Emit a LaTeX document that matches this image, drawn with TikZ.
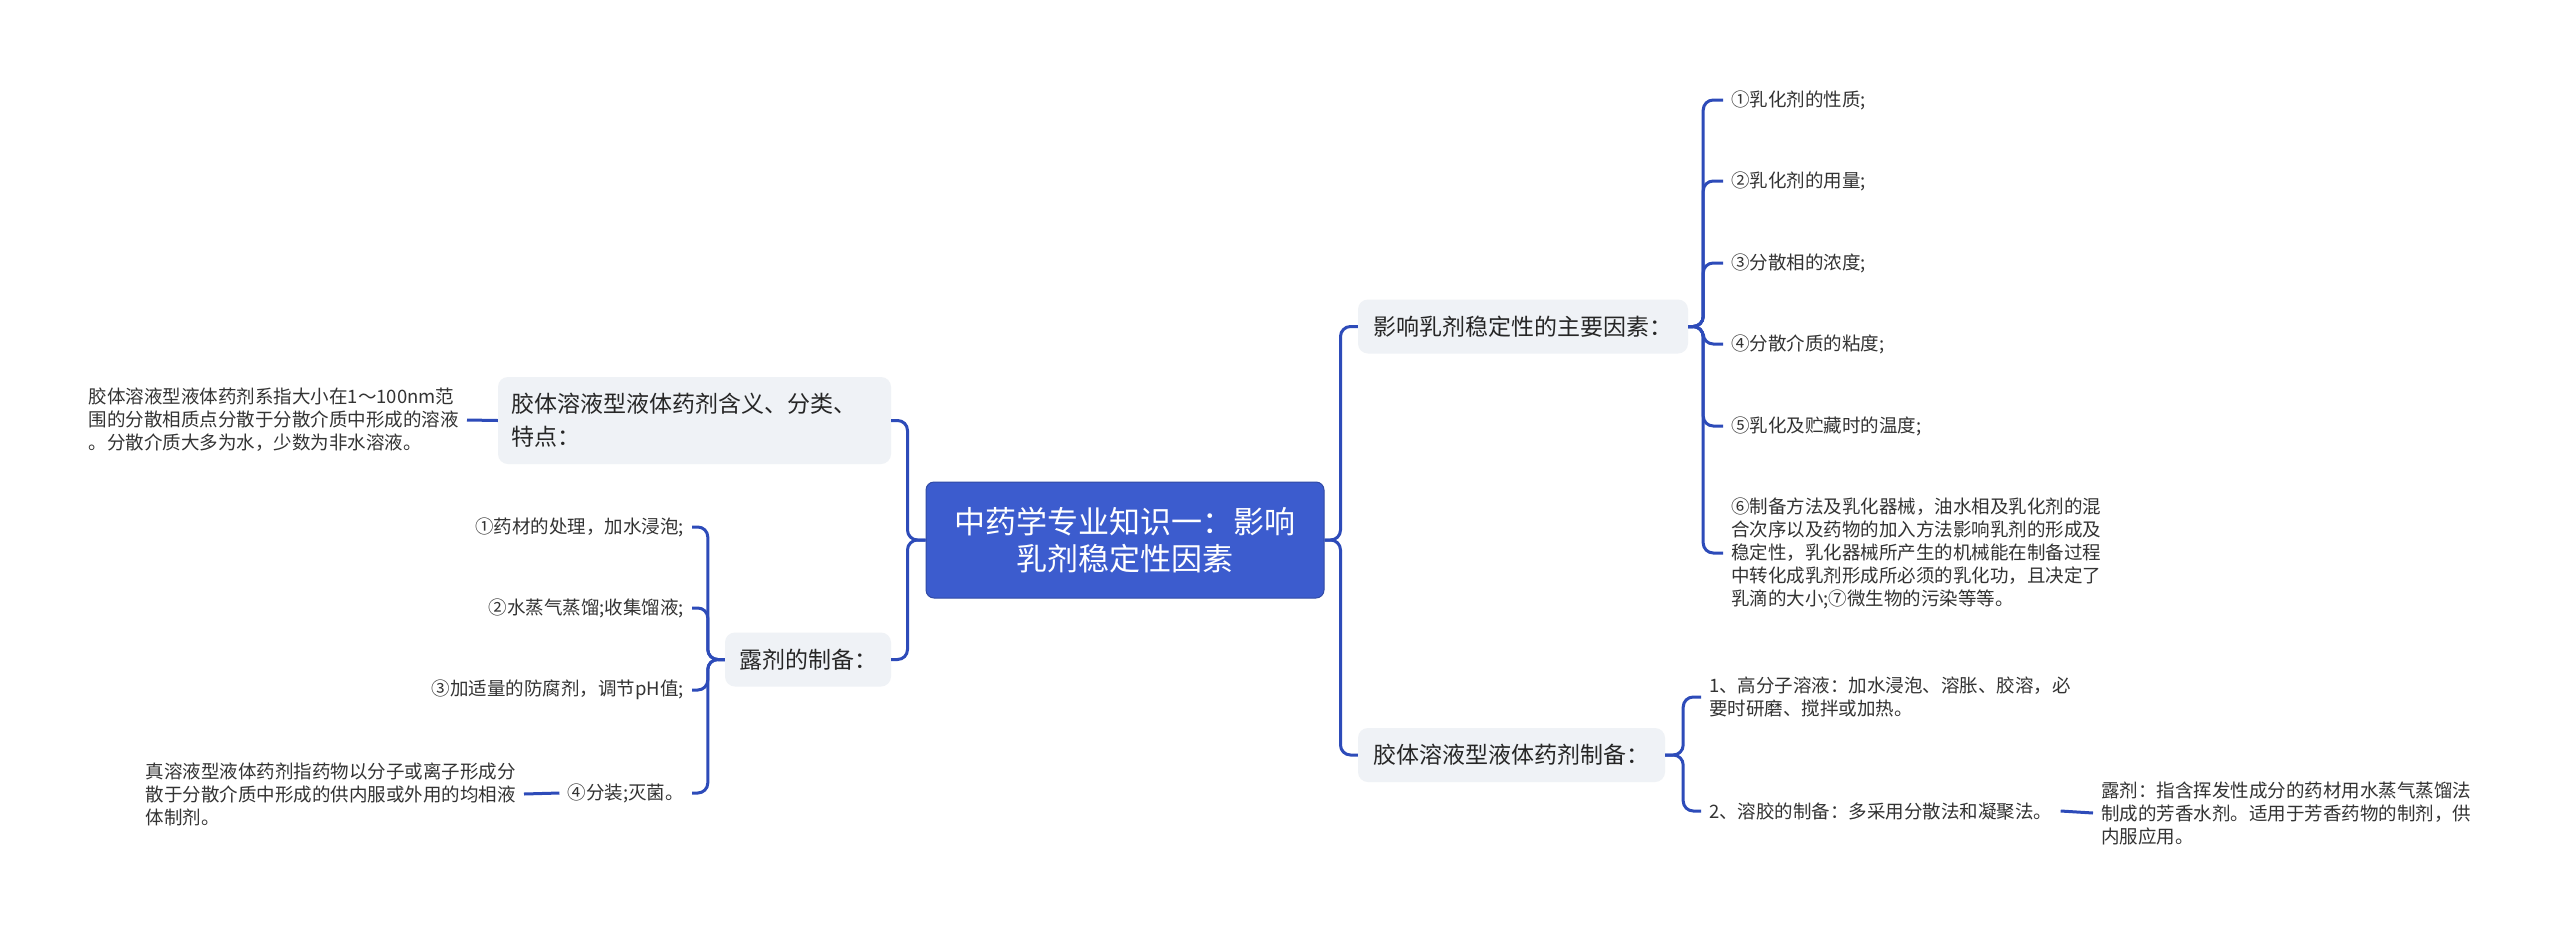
\documentclass[tikz,border=0pt]{standalone}
\usepackage{fontspec}
\newfontfamily\cjk{Noto Sans CJK SC}
\definecolor{linkblue}{HTML}{2D4BB9}
\definecolor{rootblue}{HTML}{3C5CCE}
\definecolor{boxgray}{HTML}{EFF2F6}
\definecolor{leaftext}{HTML}{333333}

\begin{document}
\begin{tikzpicture}[x=1pt, y=-1pt,
                    root/.style={draw=rootblue!80!black, line width=1pt, fill=rootblue, rounded corners=8pt, text=white, align=center, minimum width=398pt, minimum height=116pt, font=\cjk\fontsize{31}{37}\selectfont},
                    topic/.style={fill=boxgray, rounded corners=10pt, text=black!85, align=left, inner xsep=13pt, minimum height=54pt, font=\cjk\fontsize{23}{33}\selectfont},
                    leaf/.style={text=leaftext, align=left, inner xsep=8pt, inner ysep=2pt, font=\cjk\fontsize{18.5}{23}\selectfont},
                    link/.style={draw=linkblue, line width=3pt, rounded corners=10pt}]
                    \path[use as bounding box, fill=white] (0,0) rectangle (2560,935);
                    \node[root] (root) at (1125,540) {中药学专业知识一：影响\\乳剂稳定性因素};
                    \node[topic, text width=367pt, minimum height=87pt] (meaning) at (694.5,420.5) {胶体溶液型液体药剂含义、分类、\\特点：};
                    \node[topic, minimum width=166pt] (luji) at (808,659.5) {露剂的制备：};
                    \node[topic, minimum width=330pt] (factor) at (1523,326.5) {影响乳剂稳定性的主要因素：};
                    \node[topic, minimum width=307pt] (prep) at (1511.5,755) {胶体溶液型液体药剂制备：};
                    \node[leaf, anchor=east] (meaningleaf) at (467,420) {胶体溶液型液体药剂系指大小在1～100nm范\\围的分散相质点分散于分散介质中形成的溶液\\。分散介质大多为水，少数为非水溶液。};
                    \node[leaf, anchor=east] (lu1) at (692,527) {①药材的处理，加水浸泡;};
                    \node[leaf, anchor=east] (lu2) at (692,608) {②水蒸气蒸馏;收集馏液;};
                    \node[leaf, anchor=east] (lu3) at (692,690) {③加适量的防腐剂，调节pH值;};
                    \node[leaf, anchor=east] (lu4) at (692,793) {④分装;灭菌。};
                    \node[leaf, anchor=east] (truesol) at (524,794) {真溶液型液体药剂指药物以分子或离子形成分\\散于分散介质中形成的供内服或外用的均相液\\体制剂。};
                    \node[leaf, anchor=west] (f1) at (1723,100) {①乳化剂的性质;};
                    \node[leaf, anchor=west] (f2) at (1723,181) {②乳化剂的用量;};
                    \node[leaf, anchor=west] (f3) at (1723,263) {③分散相的浓度;};
                    \node[leaf, anchor=west] (f4) at (1723,344) {④分散介质的粘度;};
                    \node[leaf, anchor=west] (f5) at (1723,426) {⑤乳化及贮藏时的温度;};
                    \node[leaf, anchor=west] (f6) at (1723,553) {⑥制备方法及乳化器械，油水相及乳化剂的混\\合次序以及药物的加入方法影响乳剂的形成及\\稳定性，乳化器械所产生的机械能在制备过程\\中转化成乳剂形成所必须的乳化功，且决定了\\乳滴的大小;⑦微生物的污染等等。};
                    \node[leaf, anchor=west] (p1) at (1701,697) {1、高分子溶液：加水浸泡、溶胀、胶溶，必\\要时研磨、搅拌或加热。};
                    \node[leaf, anchor=west] (p2) at (1701,811) {2、溶胶的制备：多采用分散法和凝聚法。};
                    \node[leaf, anchor=west] (lujidef) at (2093,813) {露剂：指含挥发性成分的药材用水蒸气蒸馏法\\制成的芳香水剂。适用于芳香药物的制剂，供\\内服应用。};
                    \draw[link] (root.west) -- ++(-18,0) |- (meaning.east);
                    \draw[link] (root.west) -- ++(-18,0) |- (luji.east);
                    \draw[link] (meaningleaf.east) -- (meaning.west);
                    \foreach \n in {lu1,lu2,lu3,lu4}
                        \draw[link] (luji.west) -- ++(-17,0) |- (\n.east);
                    \draw[link] (lu4.west) -- (truesol.east);
                    \draw[link] (root.east) -- ++(16,0) |- (factor.west);
                    \draw[link] (root.east) -- ++(16,0) |- (prep.west);
                    \foreach \n in {f1,f2,f3,f4,f5,f6}
                        \draw[link] (factor.east) -- ++(15,0) |- (\n.west);
                    \foreach \n in {p1,p2}
                        \draw[link] (prep.east) -- ++(18,0) |- (\n.west);
                    \draw[link] (p2.east) -- (lujidef.west);
                \end{tikzpicture}
\end{document}
